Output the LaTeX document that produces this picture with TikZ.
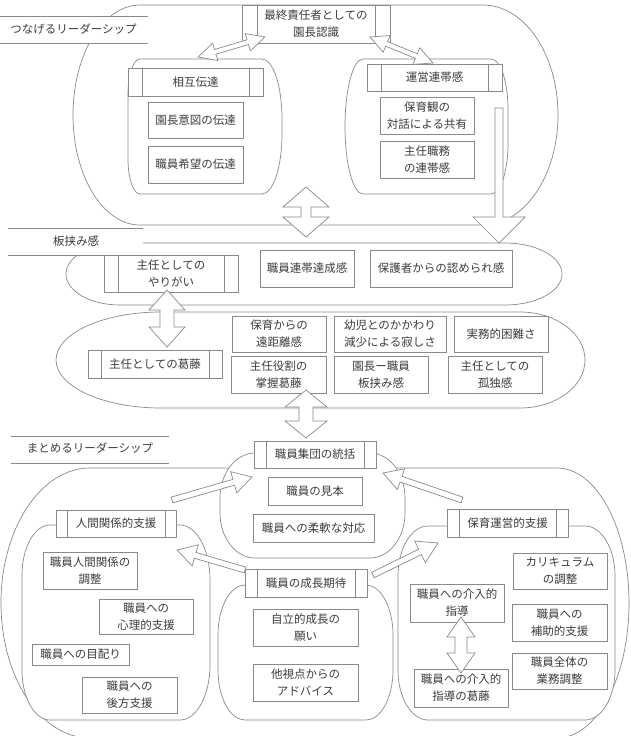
\documentclass[tikz,border=0pt]{standalone}
\usepackage{fontspec}
\setmainfont{Noto Sans CJK JP}
\definecolor{ln}{HTML}{8A8A8A}
\definecolor{tx}{HTML}{3C3C3C}
\newcommand\fs{\fontsize{11.5pt}{17pt}\selectfont}
\tikzset{
  ln1/.style={draw=ln, line width=0.7pt},
  shp/.style={ln1, fill=white},
  box/.style={ln1, fill=white, text=tx, align=center, inner sep=0pt, outer sep=0pt, font=\fs},
  lbl/.style={text=tx, font=\fs, inner sep=0pt},
  blkarr/.style={ln1, fill=white, line join=miter},
}
% x1 y1 x2 y2 rxL ryL rxR ryR  (pixel coords, y downward)
\newcommand\mkshape[8]{%
 \draw[shp] ({#1+#5},{-#2}) -- ({#3-#7},{-#2})
   arc[start angle=90,end angle=0,x radius=#7 pt,y radius=#8 pt]
   -- ({#3},{-#4+#8})
   arc[start angle=0,end angle=-90,x radius=#7 pt,y radius=#8 pt]
   -- ({#1+#5},{-#4})
   arc[start angle=270,end angle=180,x radius=#5 pt,y radius=#6 pt]
   -- ({#1},{-#2-#6})
   arc[start angle=180,end angle=90,x radius=#5 pt,y radius=#6 pt] -- cycle;}
% from, to, shaft half width, head half width, head length, double(1)/single(0)
\newcommand\mkarrow[6]{%
 \path (#1); \pgfgetlastxy{\ax}{\ay}
 \path (#2); \pgfgetlastxy{\bx}{\by}
 \pgfmathsetmacro\aL{veclen(\bx-\ax,\by-\ay)}
 \pgfmathsetmacro\aA{atan2(\by-\ay,\bx-\ax)}
 \begin{scope}[shift={(\ax,\ay)}, rotate=\aA]
 \ifnum#6=1
  \draw[blkarr] (0,0) -- (#5,#4) -- (#5,#3) -- ({\aL-#5},#3) -- ({\aL-#5},#4) -- (\aL,0)
   -- ({\aL-#5},-#4) -- ({\aL-#5},-#3) -- (#5,-#3) -- (#5,-#4) -- cycle;
 \else
  \draw[blkarr] (0,#3) -- ({\aL-#5},#3) -- ({\aL-#5},#4) -- (\aL,0)
   -- ({\aL-#5},-#4) -- ({\aL-#5},-#3) -- (0,-#3) -- cycle;
 \fi
 \end{scope}}
\newcommand\mkstrips[2]{\draw[ln1] ([xshift=#2pt]#1.north west) -- ([xshift=#2pt]#1.south west)
  ([xshift=-#2pt]#1.north east) -- ([xshift=-#2pt]#1.south east);}
\newcommand\mklabel[5]{% x1 y1 x2 y2 name
 \fill[white] (#1,-#2) rectangle (#3,-#4);
 \draw[ln1] (#1,-#2) -- (#3,-#2) (#1,-#4) -- (#3,-#4);}

\begin{document}
\begin{tikzpicture}[x=1pt,y=1pt]
\useasboundingbox[fill=white] (0,0) rectangle (630,-736);

% ---------- top section ----------
\mkshape{73}{5}{558}{225}{67}{110}{75}{110}
\mklabel{0}{16}{148}{43}{}
\node[lbl] (lab1) at (73.5,-29.5) {つなげるリーダーシップ};
\mkshape{128}{59}{282}{194}{12}{35}{20}{60}
\mkshape{345}{59}{508}{194}{18}{67.5}{17}{50}

% ---------- middle section ----------
\mkshape{66}{243}{562}{305}{54}{31}{57}{31}
\mkshape{56}{312}{585}{408}{105}{48}{65}{48}
\mklabel{8}{228}{143}{255}{}
\node[lbl] (lab2) at (76,-241.5) {板挟み感};

% ---------- bottom section ----------
\mkshape{1}{468}{629}{738}{89}{135}{72}{135}
\mkshape{220}{453}{405}{558}{35}{45}{35}{45}
\mkshape{22}{525}{210}{720}{28}{50}{30}{55}
\mkshape{218}{585}{393}{720}{27}{50}{27}{50}
\mkshape{398}{526}{615}{720}{30}{50}{30}{50}
\mklabel{11}{436}{169}{463}{}
\node[lbl] (lab3) at (90,-448.5) {まとめるリーダーシップ};

% ---------- boxes ----------
\node[box, minimum width=148pt, minimum height=38pt] (head) at (316,-24) {最終責任者としての\\園長認識};
\mkstrips{head}{15}
\node[box, minimum width=135pt, minimum height=28pt] (sogo) at (195.5,-82) {相互伝達};
\mkstrips{sogo}{14}
\node[box, minimum width=95pt, minimum height=36pt] (sogo1) at (195.5,-120) {園長意図の伝達};
\node[box, minimum width=95pt, minimum height=37pt] (sogo2) at (195.5,-164.5) {職員希望の伝達};
\node[box, minimum width=135pt, minimum height=27pt] (unei) at (434.5,-77.5) {運営連帯感};
\mkstrips{unei}{14}
\node[box, minimum width=94pt, minimum height=37pt] (unei1) at (427,-115.5) {保育観の\\対話による共有};
\node[box, minimum width=94pt, minimum height=37pt] (unei2) at (427,-159.5) {主任職務\\の連帯感};

\node[box, minimum width=134pt, minimum height=37pt] (yari) at (171,-273.5) {主任としての\\やりがい};
\mkstrips{yari}{14}
\node[box, minimum width=94pt, minimum height=37pt] (rentai) at (307,-268.5) {職員連帯達成感};
\node[box, minimum width=142pt, minimum height=37pt] (hogosha) at (441,-268.5) {保護者からの認められ感};
\node[box, minimum width=134pt, minimum height=28pt] (katto) at (155,-364) {主任としての葛藤};
\mkstrips{katto}{13}
\node[box, minimum width=94pt, minimum height=36pt] (k1) at (279,-334) {保育からの\\遠距離感};
\node[box, minimum width=112pt, minimum height=36pt] (k2) at (390,-334) {幼児とのかかわり\\減少による寂しさ};
\node[box, minimum width=94pt, minimum height=36pt] (k3) at (501,-334) {実務的困難さ};
\node[box, minimum width=95pt, minimum height=37pt] (k4) at (278.5,-374.5) {主任役割の\\掌握葛藤};
\node[box, minimum width=94pt, minimum height=37pt] (k5) at (381,-374.5) {園長ー職員\\板挟み感};
\node[box, minimum width=94pt, minimum height=37pt] (k6) at (495,-374.5) {主任としての\\孤独感};

\node[box, minimum width=122pt, minimum height=27pt] (tokatsu) at (315,-454.5) {職員集団の統括};
\mkstrips{tokatsu}{12}
\node[box, minimum width=94pt, minimum height=28pt] (mihon) at (315,-491) {職員の見本};
\node[box, minimum width=121pt, minimum height=28pt] (junan) at (313.5,-528) {職員への柔軟な対応};

\node[box, minimum width=120pt, minimum height=27pt] (ningen) at (116,-523.5) {人間関係的支援};
\mkstrips{ningen}{11}
\node[box, minimum width=94pt, minimum height=37pt] (n1) at (90,-570.5) {職員人間関係の\\調整};
\node[box, minimum width=94pt, minimum height=35pt] (n2) at (146,-616.5) {職員への\\心理的支援};
\node[box, minimum width=97pt, minimum height=21pt] (n3) at (80.5,-654.5) {職員への目配り};
\node[box, minimum width=95pt, minimum height=36pt] (n4) at (129.5,-695) {職員への\\後方支援};

\node[box, minimum width=122pt, minimum height=28pt] (seicho) at (306,-583) {職員の成長期待};
\mkstrips{seicho}{12}
\node[box, minimum width=105pt, minimum height=37pt] (s1) at (305.5,-627.5) {自立的成長の\\願い};
\node[box, minimum width=105pt, minimum height=37pt] (s2) at (305.5,-682.5) {他視点からの\\アドバイス};

\node[box, minimum width=121pt, minimum height=28pt] (hoiku) at (507.5,-523) {保育運営的支援};
\mkstrips{hoiku}{12}
\node[box, minimum width=94pt, minimum height=36pt] (h1) at (560,-571) {カリキュラム\\の調整};
\node[box, minimum width=95pt, minimum height=37pt] (h2) at (559.5,-622.5) {職員への\\補助的支援};
\node[box, minimum width=95pt, minimum height=36pt] (h3) at (559.5,-671) {職員全体の\\業務調整};
\node[box, minimum width=94pt, minimum height=38pt] (h4) at (457,-603) {職員への介入的\\指導};
\node[box, minimum width=94pt, minimum height=38pt] (h5) at (461,-688) {職員への介入的\\指導の葛藤};

% ---------- block arrows ----------
\coordinate (t1a) at (198,-57);  \coordinate (t1b) at (265,-37);
\coordinate (t2a) at (370,-37);  \coordinate (t2b) at (433,-63);
\coordinate (m1a) at (306,-187); \coordinate (m1b) at (306,-237);
\coordinate (d1a) at (499,-108); \coordinate (d1b) at (499,-243);
\coordinate (m2a) at (167,-290); \coordinate (m2b) at (167,-347);
\coordinate (m3a) at (306,-390); \coordinate (m3b) at (306,-438);
\coordinate (b1a) at (172,-500); \coordinate (b1b) at (252,-477);
\coordinate (b2a) at (462,-500); \coordinate (b2b) at (383,-473);
\coordinate (b3a) at (245,-570); \coordinate (b3b) at (177,-550);
\coordinate (b4a) at (373,-575); \coordinate (b4b) at (438,-543);
\coordinate (b5a) at (461,-617); \coordinate (b5b) at (461,-673);

\mkarrow{t1a}{t1b}{2.5}{9}{18}{1}
\mkarrow{t2a}{t2b}{2.5}{9}{18}{1}
\mkarrow{m1a}{m1b}{5}{23}{20}{1}
\mkarrow{d1a}{d1b}{4}{26}{26}{0}
\mkarrow{m2a}{m2b}{7}{18}{20}{1}
\mkarrow{m3a}{m3b}{7}{21}{17}{1}
\mkarrow{b1a}{b1b}{3}{11}{19}{0}
\mkarrow{b2a}{b2b}{3}{11}{19}{0}
\mkarrow{b3a}{b3b}{3}{11}{19}{0}
\mkarrow{b4a}{b4b}{3}{12}{20}{0}
\mkarrow{b5a}{b5b}{6}{14}{20}{1}
\end{tikzpicture}
\end{document}
